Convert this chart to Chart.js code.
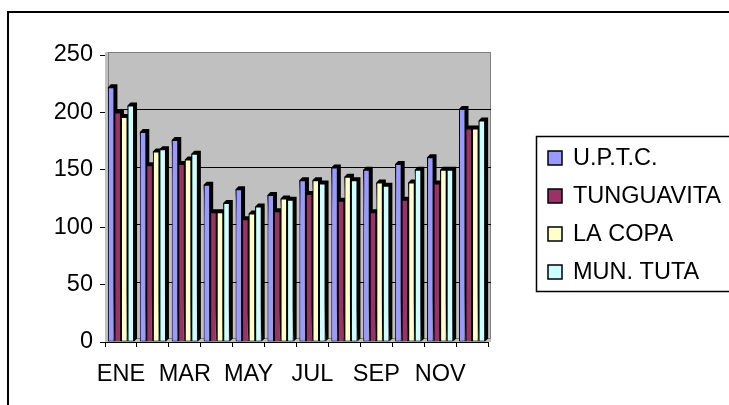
<!DOCTYPE html>
<html>
<head>
<meta charset="utf-8">
<title>Promedio mensual</title>
<script src="https://cdn.jsdelivr.net/npm/chart.js@4/dist/chart.umd.min.js"></script>
<style>
  html, body { margin: 0; padding: 0; background: #fff; overflow: hidden; }
  canvas { display: block; }
</style>
</head>
<body>
<canvas id="barChart" width="729" height="405"></canvas>
<script>
const months = ['ENE', 'FEB', 'MAR', 'ABR', 'MAY', 'JUN', 'JUL', 'AGO', 'SEP', 'OCT', 'NOV', 'DIC'];
const uptc       = [222, 183, 176, 137, 133, 128, 141, 152, 150, 155, 161, 203];
const tunguavita = [200, 154, 155, 113, 107, 114, 129, 123, 113, 124, 138, 186];
const laCopa     = [196, 166, 159, 113, 112, 125, 141, 144, 139, 139, 150, 186];
const munTuta    = [206, 168, 164, 121, 118, 124, 138, 141, 136, 150, 150, 193];
const yTicks = [0, 50, 100, 150, 200, 250];

const FONT = "'Liberation Sans', Arial, sans-serif";
const FONT_SIZE = 23.5;
const DEPTH = 3;

// gray back wall + grid lines, then the dark sides of every bar
const wallPlugin = {
    id: 'wall',
    beforeDatasetsDraw(chart) {
        const ctx = chart.ctx;
        const a = chart.chartArea;
        const y = chart.scales.y;
        ctx.save();
        ctx.fillStyle = '#c0c0c0';
        ctx.fillRect(a.left, a.top - DEPTH, a.right - a.left + DEPTH, a.bottom - a.top + DEPTH);
        ctx.strokeStyle = '#808080';
        ctx.lineWidth = 1;
        ctx.strokeRect(a.left + DEPTH + 0.5, a.top - DEPTH + 0.5, a.right - a.left - 1, a.bottom - a.top - 1);
        ctx.strokeStyle = '#000';
        yTicks.slice(1, -1).forEach(v => {
            const py = Math.round(y.getPixelForValue(v)) - DEPTH + 0.5;
            ctx.beginPath();
            ctx.moveTo(a.left + DEPTH, py);
            ctx.lineTo(a.right + DEPTH, py);
            ctx.stroke();
        });
        ctx.fillStyle = '#000';
        chart.data.datasets.forEach((ds, i) => {
            chart.getDatasetMeta(i).data.forEach(bar => {
                const x0 = bar.x - bar.width / 2, x1 = bar.x + bar.width / 2;
                const top = bar.y, bot = bar.base;
                ctx.beginPath();
                ctx.moveTo(x0, top);
                ctx.lineTo(x0 + DEPTH, top - DEPTH);
                ctx.lineTo(x1 + DEPTH, top - DEPTH);
                ctx.lineTo(x1 + DEPTH, bot - DEPTH);
                ctx.lineTo(x1, bot);
                ctx.closePath();
                ctx.fill();
            });
        });
        ctx.restore();
    },
    afterDraw(chart) {
        const ctx = chart.ctx;
        ctx.save();
        // outer frame (left and top edges only fall inside the canvas)
        ctx.strokeStyle = '#000';
        ctx.lineWidth = 2;
        ctx.beginPath();
        ctx.moveTo(8, 410);
        ctx.lineTo(8, 12);
        ctx.lineTo(735, 12);
        ctx.stroke();
        // legend box
        ctx.lineWidth = 1.5;
        ctx.beginPath();
        ctx.moveTo(740, 136.5);
        ctx.lineTo(536.5, 136.5);
        ctx.lineTo(536.5, 291.5);
        ctx.lineTo(740, 291.5);
        ctx.stroke();
        ctx.font = FONT_SIZE + 'px ' + FONT;
        ctx.textBaseline = 'middle';
        chart.data.datasets.forEach((ds, i) => {
            const cy = 158 + i * 38;
            ctx.fillStyle = ds.backgroundColor;
            ctx.fillRect(548, cy - 7, 14, 14);
            ctx.lineWidth = 1.5;
            ctx.strokeStyle = '#000';
            ctx.strokeRect(548, cy - 7, 14, 14);
            ctx.fillStyle = '#000';
            ctx.fillText(ds.label, 573, cy + 1);
        });
        ctx.restore();
    }
};

const series = [
    { label: 'U.P.T.C.', data: uptc, color: '#9999ff' },
    { label: 'TUNGUAVITA', data: tunguavita, color: '#993366' },
    { label: 'LA COPA', data: laCopa, color: '#ffffcc' },
    { label: 'MUN. TUTA', data: munTuta, color: '#ccffff' }
];

new Chart(document.getElementById('barChart'), {
    type: 'bar',
    data: {
        labels: months,
        datasets: series.map(s => ({
            label: s.label,
            data: s.data,
            backgroundColor: s.color,
            borderColor: '#000',
            borderWidth: 1,
            borderSkipped: false,
            categoryPercentage: 0.82,
            barPercentage: 1
        }))
    },
    options: {
        responsive: false,
        animation: false,
        layout: { padding: { top: 55, right: 241, left: 0, bottom: 0 } },
        plugins: { legend: { display: false }, tooltip: { enabled: false } },
        scales: {
            x: {
                afterFit: s => { s.height = 63; },
                grid: { drawOnChartArea: false, color: '#000', tickLength: 5, offset: true },
                border: { color: '#000', width: 1 },
                ticks: {
                    autoSkip: false,
                    maxRotation: 0,
                    padding: 13,
                    color: '#000',
                    font: { family: FONT, size: FONT_SIZE },
                    callback: (v, i) => (i % 2 === 0 ? months[i] : '')
                }
            },
            y: {
                min: 0,
                max: 250,
                afterFit: s => { s.width = 105; },
                grid: { drawOnChartArea: false, color: '#000', tickLength: 5 },
                border: { color: '#000', width: 1 },
                ticks: {
                    stepSize: 50,
                    padding: 7,
                    color: '#000',
                    font: { family: FONT, size: FONT_SIZE }
                }
            }
        }
    },
    plugins: [wallPlugin]
});
</script>
</body>
</html>
